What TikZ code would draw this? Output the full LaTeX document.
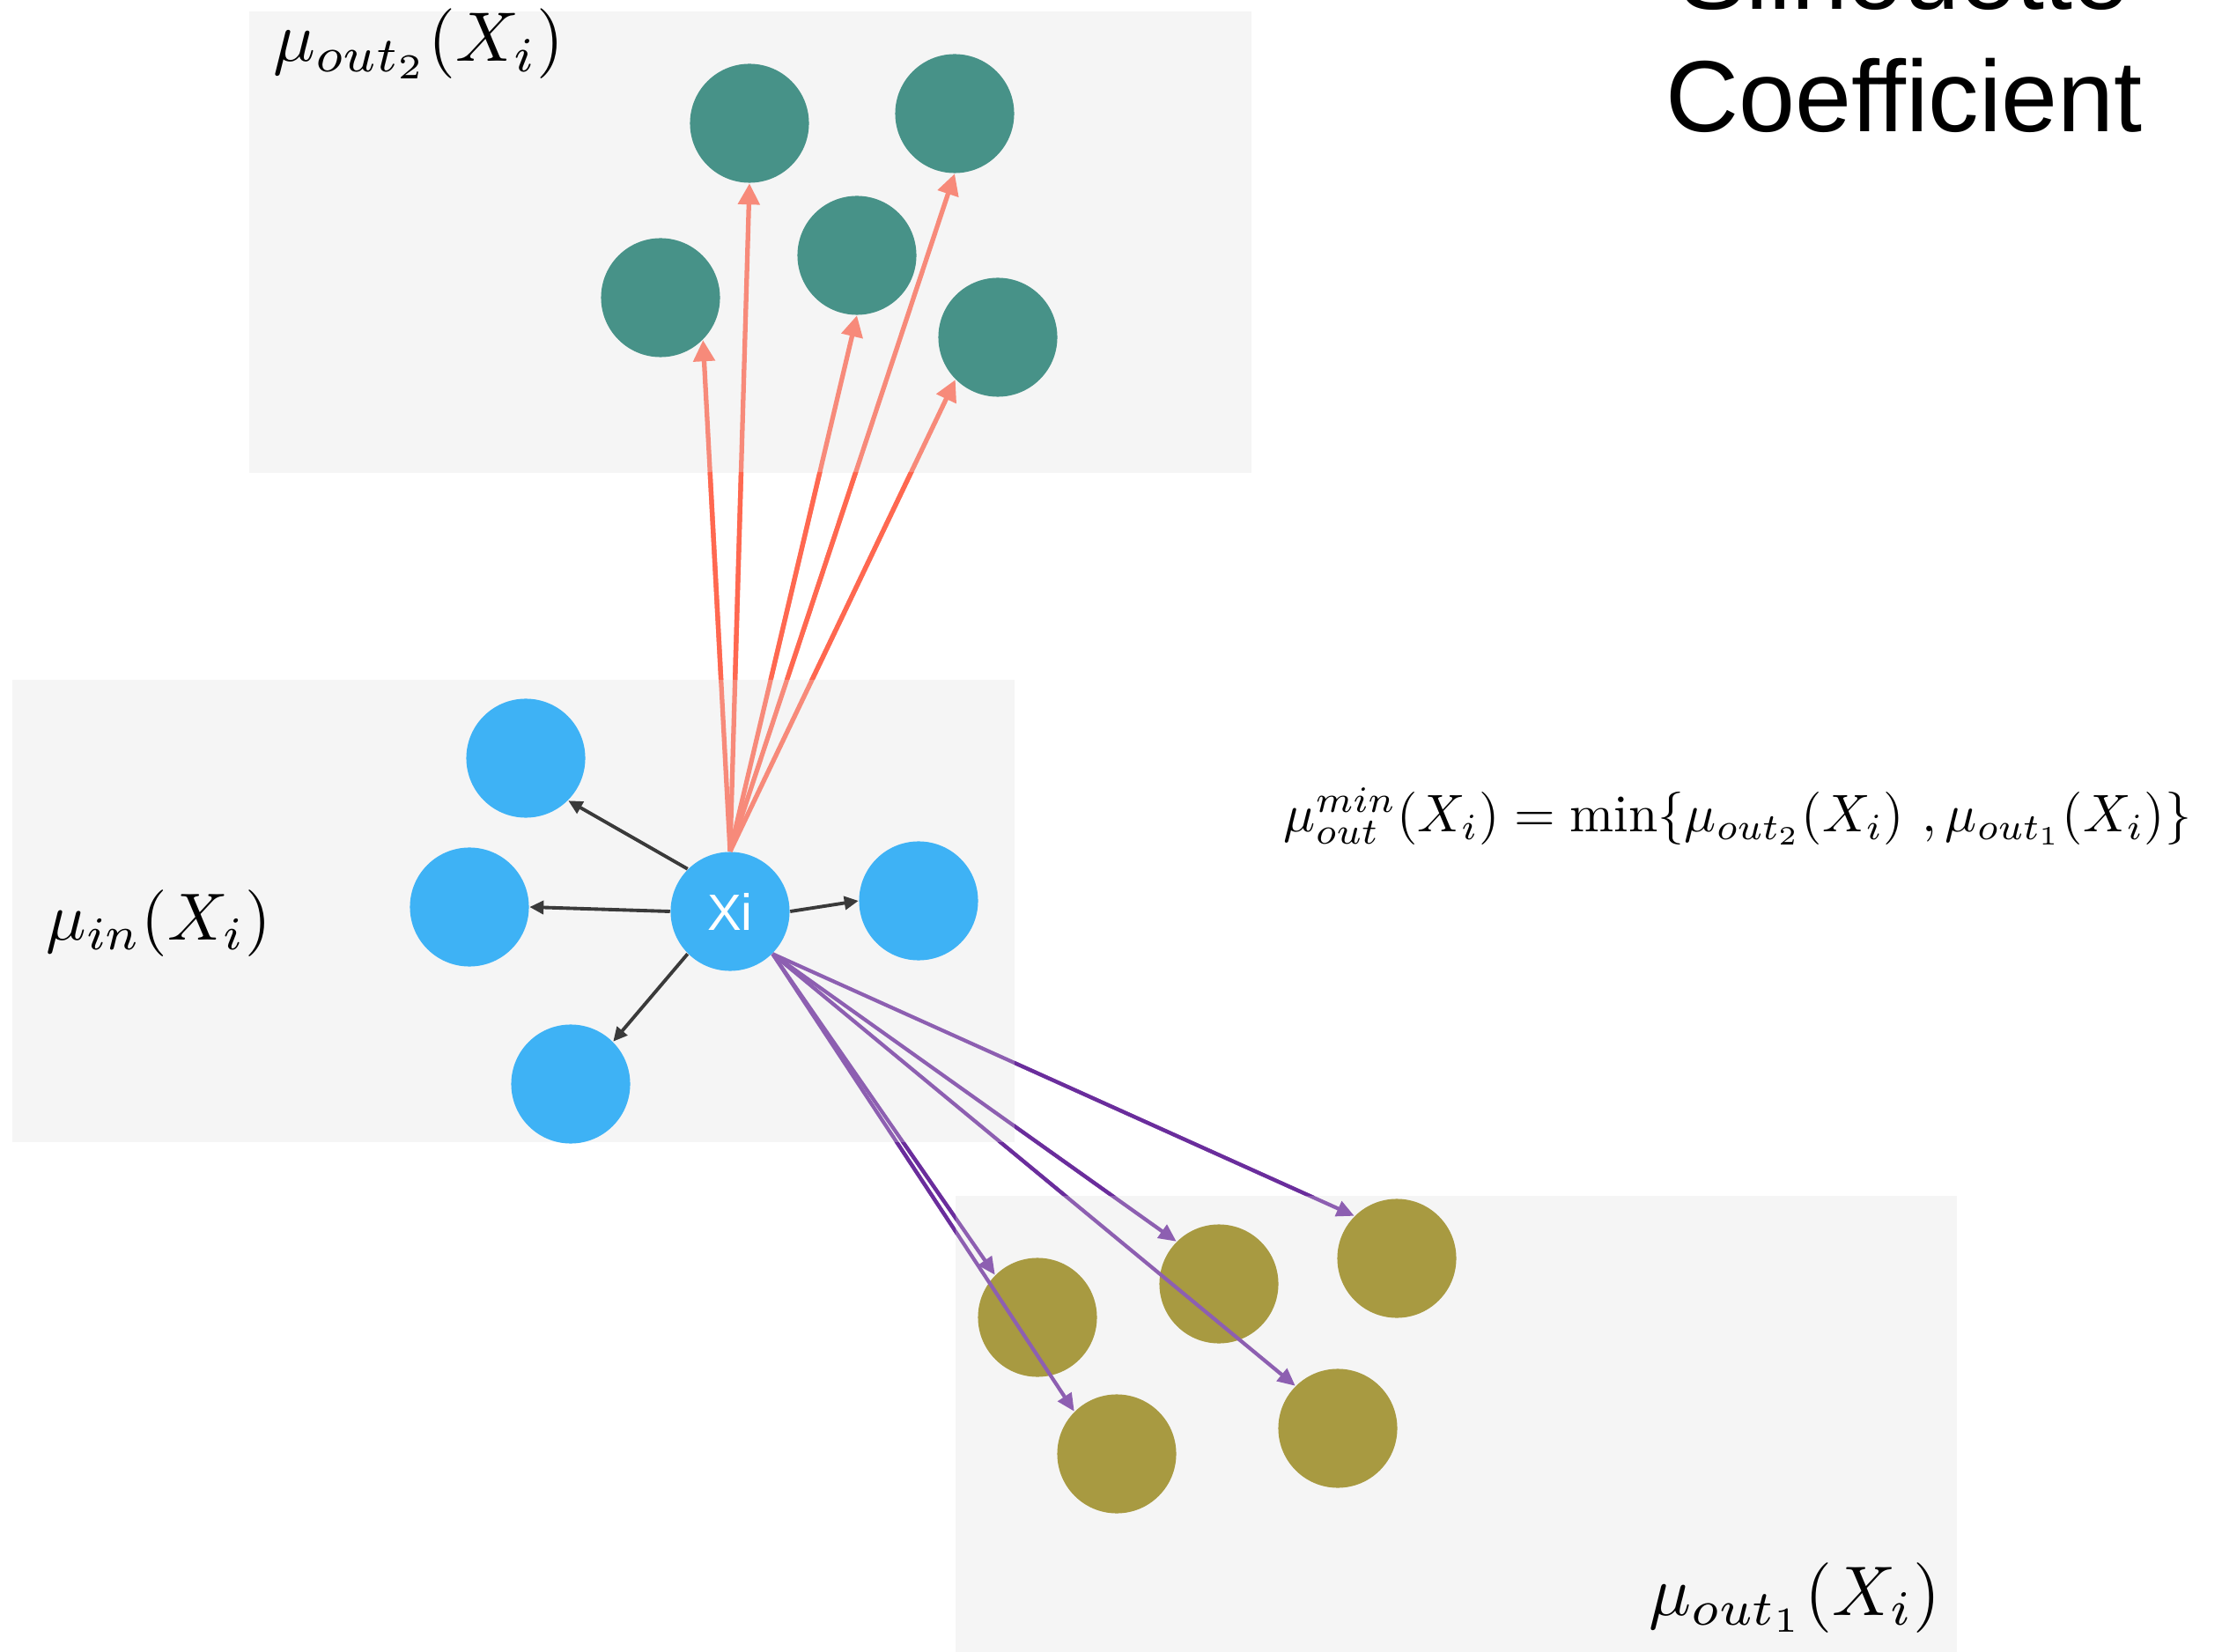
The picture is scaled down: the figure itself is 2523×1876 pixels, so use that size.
\documentclass[tikz,border=0pt]{standalone}
\usepackage{fontspec}
\usepackage{graphicx}
\usetikzlibrary{arrows.meta}
\newfontfamily\arialf{Liberation Sans}
\definecolor{boxgray}{HTML}{F5F5F5}
\definecolor{tealc}{HTML}{479288}
\definecolor{bluec}{HTML}{3EB2F5}
\definecolor{olivec}{HTML}{A89A41}
\definecolor{salmonc}{HTML}{F78A7A}
\definecolor{tomatoc}{HTML}{FF6850}
\definecolor{lpurple}{HTML}{8D5FB1}
\definecolor{dpurple}{HTML}{6A2D9C}
\definecolor{arrowgray}{HTML}{3A3A3A}
\tikzset{
  panel/.style={fill=boxgray, draw=none},
  ball/.style={circle, minimum size=1.35cm, inner sep=0pt, draw=none},
  greenball/.style={ball, fill=tealc},
  blueball/.style={ball, fill=bluec},
  oliveball/.style={ball, fill=olivec},
  redarrow/.style={draw=salmonc, line width=1.5pt, -{Triangle[length=0.24cm,width=0.24cm]}},
  blackarrow/.style={draw=arrowgray, line width=1.1pt, -{Triangle[length=0.16cm,width=0.15cm]}},
  purplearrow/.style={draw=lpurple, line width=1.2pt, -{Triangle[length=0.2cm,width=0.18cm]}},
  mathlabel/.style={anchor=base west, inner sep=0pt},
  titletext/.style={anchor=base, inner sep=0pt, font=\arialf\fontsize{32.7}{39}\selectfont}
}
\begin{document}
\begin{tikzpicture}[x=0.01cm,y=-0.01cm]
\useasboundingbox (0,0) rectangle (2523,1876);
\fill[white] (0,0) rectangle (2523,1876);

% panels
\fill[panel] (283,13) rectangle (1421,537);
\fill[panel] (14,772) rectangle (1152,1297);
\fill[panel] (1085,1358) rectangle (2222,1876);

% green cluster
\node[greenball] (g1) at (851,140) {};
\node[greenball] (g2) at (1084,129) {};
\node[greenball] (g3) at (973,290) {};
\node[greenball] (g4) at (750,338) {};
\node[greenball] (g5) at (1133,383) {};

% blue cluster
\node[blueball] (b1) at (597,861) {};
\node[blueball] (b2) at (533,1030) {};
\node[blueball] (b3) at (1043,1023) {};
\node[blueball] (b4) at (648,1231) {};
\node[blueball, text=white, font=\arialf\fontsize{16.5}{20}\selectfont] (xi) at (829,1035) {Xi};

% olive cluster
\node[oliveball] (o1) at (1178,1496) {};
\node[oliveball] (o2) at (1384,1458) {};
\node[oliveball] (o3) at (1586,1429) {};
\node[oliveball] (o4) at (1268,1651) {};
\node[oliveball] (o5) at (1519,1622) {};

% black arrows
\draw[blackarrow] (xi.north west) -- (b1.south east);
\draw[blackarrow] (xi.west) -- (b2.east);
\draw[blackarrow] (xi.east) -- (b3.west);
\draw[blackarrow] (xi.south west) -- (b4.north east);

% red arrows
\draw[redarrow] (xi.north) -- (g1.south);
\draw[redarrow] (xi.north) -- (g2.south);
\draw[redarrow] (xi.north) -- (g3.south);
\draw[redarrow] (xi.north) -- (g4.south east);
\draw[redarrow] (xi.north) -- (g5.south west);

% purple arrows
\draw[purplearrow] (xi.south east) -- (o1.north west);
\draw[purplearrow] (xi.south east) -- (o2.north west);
\draw[purplearrow] (xi.south east) -- (o3.north west);
\draw[purplearrow] (xi.south east) -- (o4.north west);
\draw[purplearrow] (xi.south east) -- (o5.north west);

% darker parts outside panels
\begin{scope}
  \clip (0,537) rectangle (2523,772);
  \foreach \t/\a in {g1/south,g2/south,g3/south,g4/south east,g5/south west}
    \draw[tomatoc, line width=1.5pt] (xi.north) -- (\t.\a);
\end{scope}
\begin{scope}
  \clip (1152,0) rectangle (2523,1358) (0,1297) rectangle (1085,1876) (0,1297) rectangle (2523,1358);
  \foreach \t in {o1,o2,o3,o4,o5}
    \draw[dpurple, line width=1.2pt] (xi.south east) -- (\t.north west);
\end{scope}

% labels
\node[mathlabel] (lout2) at (310,70) {\resizebox{3.3cm}{!}{$\mu_{out_2}(X_i)$}};
\node[mathlabel] (lin) at (52,1067) {\resizebox{2.55cm}{!}{$\mu_{in}(X_i)$}};
\node[mathlabel] (lout1) at (1872,1834) {\resizebox{3.31cm}{!}{$\mu_{out_1}(X_i)$}};
\node[mathlabel] (formula) at (1457,944) {\resizebox{10.3cm}{!}{$\mu_{out}^{min}(X_i) = \min\{\mu_{out_2}(X_i)\ ,\mu_{out_1}(X_i)\}$}};

% title
\node[titletext] (t1) at (2162,11) {Silhouette};
\node[titletext] (t2) at (2162,150) {Coefficient};
\end{tikzpicture}
\end{document}
